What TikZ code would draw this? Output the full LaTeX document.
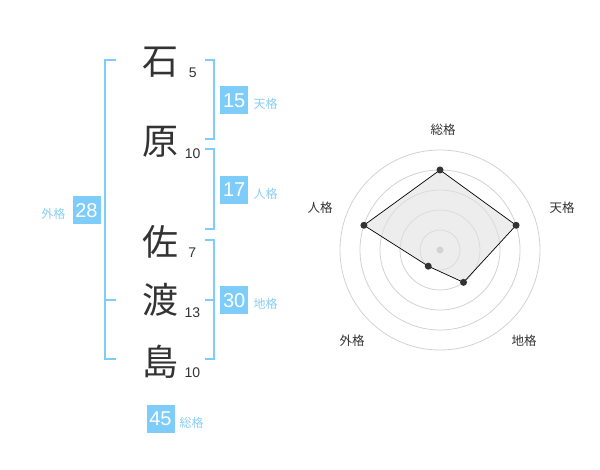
\documentclass[tikz,border=0pt]{standalone}
\usepackage{fontspec}
\setmainfont{Liberation Sans}
\newfontfamily\jfont{Noto Sans CJK JP}
\definecolor{kakublue}{RGB}{125,204,250}
\definecolor{kakutext}{RGB}{135,206,245}
\definecolor{inkgray}{RGB}{51,51,51}
\definecolor{ringgray}{RGB}{210,210,210}
\definecolor{areagray}{RGB}{225,225,225}
\tikzset{
  kanji/.style={text=inkgray, font=\jfont\fontsize{36}{36}\selectfont, inner sep=0pt},
  strokes/.style={text=inkgray, font=\fontsize{14}{14}\selectfont, inner sep=0pt},
  kakubox/.style={fill=kakublue, text=white, minimum size=28pt, inner sep=0pt, font=\fontsize{20}{20}\selectfont},
  kakulabel/.style={text=kakutext, font=\jfont\fontsize{12}{12}\selectfont, inner sep=0pt},
  bracket/.style={draw=kakublue, line width=2pt},
  ring/.style={draw=ringgray, line width=0.8pt},
  axislabel/.style={text=inkgray, font=\jfont\fontsize{12.5}{12.5}\selectfont, inner sep=0pt},
  dot/.style={circle, fill=inkgray, inner sep=0pt, minimum size=7pt},
}
\begin{document}
\begin{tikzpicture}[x=1pt, y=-1pt]
\useasboundingbox (0,0) rectangle (600,470);

% Drawing name characters
\node[kanji] (c1) at (160,61.7) {石};
\node[kanji] (c2) at (160,141.7) {原};
\node[kanji] (c3) at (160,241.7) {佐};
\node[kanji] (c4) at (160,300) {渡};
\node[kanji] (c5) at (160,361.7) {島};

% Drawing stroke counts
\node[strokes] (s1) at (192.7,72.7) {5};
\node[strokes] (s2) at (192.7,153.3) {10};
\node[strokes] (s3) at (192.3,252.3) {7};
\node[strokes] (s4) at (192.3,312.7) {13};
\node[strokes] (s5) at (192.3,372.7) {10};

% Drawing brackets
\draw[bracket] (205,60) -- (214,60) -- (214,139.3) -- (205,139.3);
\draw[bracket] (205,149.3) -- (214,149.3) -- (214,229.3) -- (205,229.3);
\draw[bracket] (205,240) -- (214,240) -- (214,359.3) -- (205,359.3);
\draw[bracket] (205,300) -- (214,300);
\draw[bracket] (116,60) -- (105,60) -- (105,359.3) -- (116,359.3);
\draw[bracket] (105,300) -- (116,300);

% Drawing score boxes
\node[kakubox] (ten) at (234.2,100.5) {15};
\node[kakulabel, anchor=west] (tenl) at (253.5,104) {天格};
\node[kakubox] (jin) at (234.2,190) {17};
\node[kakulabel, anchor=west] (jinl) at (253.5,194) {人格};
\node[kakubox] (chi) at (234.2,300.2) {30};
\node[kakulabel, anchor=west] (chil) at (253.5,304) {地格};
\node[kakubox] (gai) at (86.5,210.2) {28};
\node[kakulabel, anchor=east] (gail) at (65.5,213.5) {外格};
\node[kakubox] (sou) at (160.5,418.8) {45};
\node[kakulabel, anchor=west] (soul) at (179.5,422.7) {総格};

% Drawing radar chart
\begin{scope}[shift={(440,250)}, yscale=-1]
  \foreach \r in {20,40,60,80,100}
    \draw[ring] (0,0) circle (\r);
  \coordinate (rsou) at (90:80);
  \coordinate (rten) at (18:80);
  \coordinate (rchi) at (-54:40);
  \coordinate (rgai) at (-126:20);
  \coordinate (rjin) at (162:80);
  \fill[areagray, fill opacity=0.6] (rsou) -- (rten) -- (rchi) -- (rgai) -- (rjin) -- cycle;
  \draw[black, line width=0.7pt] (rsou) -- (rten) -- (rchi) -- (rgai) -- (rjin) -- cycle;
  \node[dot, fill=ringgray] (ctr) at (0,0) {};
  \foreach \p in {rsou,rten,rchi,rgai,rjin}
    \node[dot] (d\p) at (\p) {};
\end{scope}

% Drawing axis labels
\node[axislabel] (asou) at (443,130) {総格};
\node[axislabel] (aten) at (562,208) {天格};
\node[axislabel] (achi) at (524,341) {地格};
\node[axislabel] (agai) at (352,341) {外格};
\node[axislabel] (ajin) at (320,208) {人格};
\end{tikzpicture}
\end{document}
